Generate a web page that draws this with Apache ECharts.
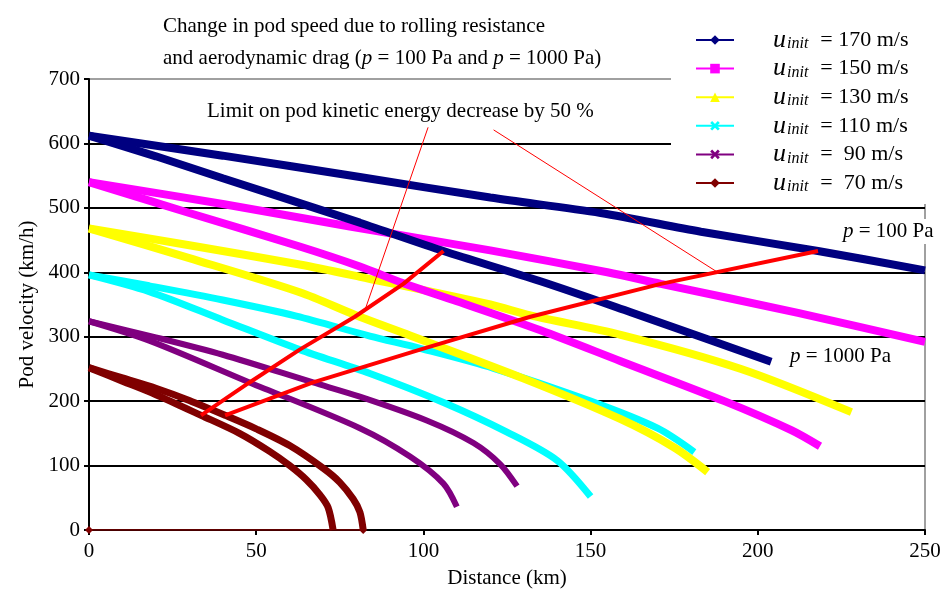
<!DOCTYPE html>
<html><head><meta charset="utf-8">
<script src="https://cdn.jsdelivr.net/npm/echarts@6/dist/echarts.min.js"></script>
<style>html,body{margin:0;padding:0;background:#fff}#c{width:950px;height:596px}</style>
</head><body><div id="c"></div>
<script>
const FONT = 'Liberation Serif';
const xTicks = [0, 50, 100, 150, 200, 250];
const yTicks = [0, 100, 200, 300, 400, 500, 600, 700];
const legendNames = ['= 170 m/s', '= 150 m/s', '= 130 m/s', '= 110 m/s', '=  90 m/s', '=  70 m/s'];
const colors = ['#000080', '#ff00ff', '#ffff00', '#00ffff', '#800080', '#800000'];

// [distance km, velocity km/h]
const u170_p100  = [[0,612],[40,581],[81,548],[120,516],[153,492],[183,463],[218,433],[250,403]];
const u170_p1000 = [[0,612],[20,580],[40,546],[81,477],[106,433],[135,386],[162,338],[185,296],[204,261]];
const u150_p100  = [[0,540],[40,506],[78,471],[120,434],[155,400],[171,382],[212,337],[250,292]];
const u150_p1000 = [[0,540],[30,492],[63,440],[81,409],[94,383],[110,355],[135,310],[159,262],[190,200],[210,155],[218.6,130]];
const u130_p100  = [[0,468],[30,442],[63,412],[81,393],[120,350],[132,333],[159,303],[195,250],[228,183]];
const u130_p1000 = [[0,468],[30,422],[63,369],[80,333],[96,302],[130,235],[159,172],[175,128],[185,90]];
const u110_p100  = [[0,396],[18,379],[40,357],[62,332],[84,301],[99,282],[121,251],[150,200],[170,158],[181,121]];
const u110_p1000 = [[0,396],[18,370],[40,326],[63,280],[84,243],[106,198],[125,152],[140,108],[150,52]];
const u90_p100   = [[0,324],[20,299],[40,272],[67,229],[81,207],[101,170],[115,135],[123,102],[128,68]];
const u90_p1000  = [[0,324],[18,294],[48,229],[81,158],[96,114],[106,72],[110,36]];
const u70_p100   = [[0,252],[10,236],[20,220],[30,201],[40.7,178],[50,157],[60,131],[70,96],[75,74],[79,48],[81,28],[82,0]];
const u70_p1000  = [[0,252],[10,231],[20,210],[33.5,178],[45,150],[54,122],[60,100],[65,78],[69,55],[71.5,35],[73,0]];
const u70_zero   = [[0,0],[82,0]];

// 50 % kinetic energy points
const half_p100  = [[40.7,178],[67,229],[99,280],[132,331],[171,382],[218,433]];
const half_p1000 = [[33.5,178],[48,229],[63,280],[79.5,331],[94,382],[106,433]];
const pointerA = [[101.4,625],[82.5,341]];
const pointerB = [[121,621],[188,400]];

const curves = [
  [u70_p100, u70_p1000],
  [u90_p100, u90_p1000],
  [u110_p100, u110_p1000],
  [u130_p100, u130_p1000],
  [u150_p100, u150_p1000],
  [u170_p100, u170_p1000]
];
const xPath = 'path://M0,2 L2,0 L5,3 L8,0 L10,2 L7,5 L10,8 L8,10 L5,7 L2,10 L0,8 L3,5 Z';
const symbols = ['diamond', 'rect', 'triangle', xPath, xPath, 'diamond'];
const widths = [8, 8, 8, 7, 6, 7];

const series = [];
for (let k = 5; k >= 0; k--) {
  const idx = 5 - k;
  curves[idx].forEach(d => {
    series.push({
      type: 'line', name: legendNames[k], data: d, color: colors[k],
      symbol: symbols[k], showSymbol: false, smooth: 0.3,
      lineStyle: { width: widths[k], color: colors[k] }, z: 2
    });
  });
}
series.push({ type: 'line', name: 'zero', data: u70_zero, color: '#800000', symbol: 'diamond', symbolSize: 8,
  showSymbol: true, lineStyle: { width: 1.5, color: '#800000' }, itemStyle: { color: '#800000' }, z: 3 });
series.push({ type: 'line', name: 'half100', data: half_p100, symbol: 'none', lineStyle: { width: 4, color: '#ff0000' }, z: 5 });
series.push({ type: 'line', name: 'half1000', data: half_p1000, symbol: 'none', lineStyle: { width: 4, color: '#ff0000' }, z: 5 });
series.push({ type: 'line', name: 'ptrA', data: pointerA, symbol: 'none', lineStyle: { width: 1, color: '#ff0000' }, z: 5 });
series.push({ type: 'line', name: 'ptrB', data: pointerB, symbol: 'none', lineStyle: { width: 1, color: '#ff0000' }, z: 5 });

const chart = echarts.init(document.getElementById('c'), null, { renderer: 'canvas' });
chart.setOption({
  animation: false,
  backgroundColor: '#fff',
  textStyle: { fontFamily: FONT, color: '#000' },
  grid: { left: 89, right: 25, top: 79, bottom: 66, show: true, borderColor: '#a0a0a0', borderWidth: 2, backgroundColor: 'transparent' },
  xAxis: {
    type: 'value', min: xTicks[0], max: xTicks[xTicks.length - 1], interval: 50,
    axisLine: { show: true, onZero: false, lineStyle: { color: '#000', width: 2 } },
    axisTick: { show: true, length: 5, lineStyle: { color: '#000', width: 2 } },
    axisLabel: { fontFamily: FONT, fontSize: 21, color: '#000', margin: 11 },
    splitLine: { show: false },
    name: 'Distance (km)', nameLocation: 'middle', nameGap: 38,
    nameTextStyle: { fontFamily: FONT, fontSize: 21, color: '#000' }
  },
  yAxis: {
    type: 'value', min: yTicks[0], max: yTicks[yTicks.length - 1], interval: 100,
    axisLine: { show: true, lineStyle: { color: '#000', width: 2 } },
    axisTick: { show: true, length: 5, lineStyle: { color: '#000', width: 2 } },
    axisLabel: { fontFamily: FONT, fontSize: 21, color: '#000', margin: 9 },
    splitLine: { show: true, lineStyle: { color: ['#000','#000','#000','#000','#000','#000','#000','#a0a0a0'], width: 2 } },
    name: 'Pod velocity (km/h)', nameLocation: 'middle', nameGap: 50,
    nameTextStyle: { fontFamily: FONT, fontSize: 21, color: '#000' }
  },
  legend: {
    data: legendNames, orient: 'vertical', left: 671, top: 20,
    padding: [7, 40, 8, 24], itemWidth: 38, itemHeight: 12, itemGap: 2.6,
    backgroundColor: '#fff', selectedMode: false,
    lineStyle: { width: 2 },
    formatter: n => '{u|u}{s|init}{t|' + n + '}',
    textStyle: {
      color: '#000', fontFamily: FONT,
      rich: {
        u: { fontFamily: FONT, fontStyle: 'italic', fontSize: 26, lineHeight: 24, padding: [0, 0, 0, 34], color: '#000' },
        s: { fontFamily: FONT, fontStyle: 'italic', fontSize: 16, lineHeight: 12, verticalAlign: 'bottom', padding: [0, 0, 0, 1], color: '#000' },
        t: { fontFamily: FONT, fontSize: 22, lineHeight: 24, padding: [0, 0, 0, 12], color: '#000' }
      }
    }
  },
  graphic: [
    { type: 'text', left: 163, top: 10, z: 10, style: {
        text: 'Change in pod speed due to rolling resistance\nand aerodynamic drag ({i|p} = 100 Pa and {i|p} = 1000 Pa)',
        font: '21px "Liberation Serif"', fill: '#000', lineHeight: 32,
        rich: { i: { fontStyle: 'italic', fontSize: 21, fontFamily: FONT, lineHeight: 32 } } } },
    { type: 'text', left: 207, top: 101, z: 10, style: {
        text: 'Limit on pod kinetic energy decrease by 50 %', font: '21px "Liberation Serif"', fill: '#000' } },
    { type: 'text', left: 841, top: 219, z: 10, style: {
        text: '{i|p} = 100 Pa', font: '21px "Liberation Serif"', fill: '#000', backgroundColor: '#fff', padding: [2, 2, 2, 2],
        rich: { i: { fontStyle: 'italic', fontSize: 21, fontFamily: FONT } } } },
    { type: 'text', left: 788, top: 344, z: 10, style: {
        text: '{i|p} = 1000 Pa', font: '21px "Liberation Serif"', fill: '#000', backgroundColor: '#fff', padding: [2, 2, 2, 2],
        rich: { i: { fontStyle: 'italic', fontSize: 21, fontFamily: FONT } } } }
  ],
  series: series
});
</script></body></html>
